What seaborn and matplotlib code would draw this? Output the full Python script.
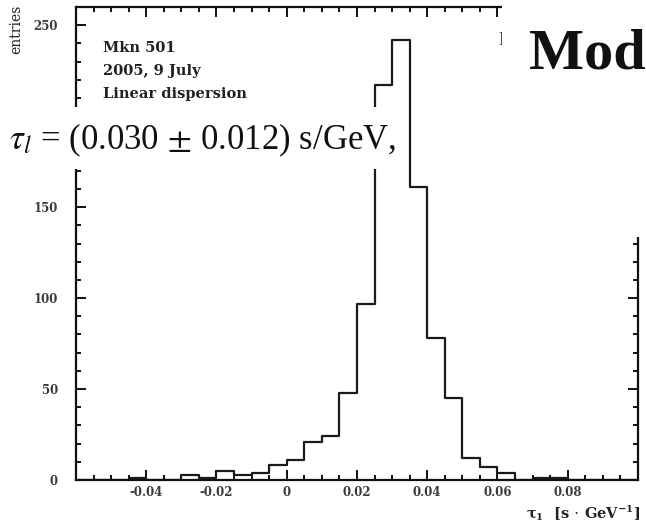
import matplotlib as mpl
import matplotlib.pyplot as plt
import numpy as np
import pandas as pd
import seaborn as sns
from matplotlib.patches import Rectangle
from matplotlib.ticker import MultipleLocator

mpl.use('Agg')

# histogram of tau_l, bin width 0.005 s/GeV
bin_edges = np.round(np.arange(-0.06, 0.1001, 0.005), 4)
counts = [0, 0, 0, 1, 0, 0, 3, 1, 5, 3, 4, 8, 11, 21, 24, 48,
          97, 217, 242, 161, 78, 45, 12, 7, 4, 0, 1, 1, 0, 0, 0, 0]
bin_centers = (bin_edges[:-1] + bin_edges[1:]) / 2

x_ticks = [-0.04, -0.02, 0, 0.02, 0.04, 0.06, 0.08]
x_ticklabels = ['-0.04', '-0.02', '0', '0.02', '0.04', '0.06', '0.08']
y_ticks = [0, 50, 100, 150, 250]

info_lines = ['Mkn 501', '2005, 9 July', 'Linear dispersion']
fit_text = r'$\tau_l$ = (0.030$\,\pm\,$0.012) s/GeV,'

df = pd.DataFrame({'tau': bin_centers, 'n': counts})

# ROOT-like look
sns.set_theme(style='ticks', rc={'axes.linewidth': 1.6, 'axes.edgecolor': '#111111'})
plt.rcParams['font.family'] = ['DejaVu Serif']

fig = plt.figure(figsize=(6.46, 5.22), dpi=100)
ax = fig.add_axes([0.1176, 0.0805, 0.87, 0.906])

sns.histplot(data=df, x='tau', weights='n', bins=list(bin_edges), element='step',
             fill=False, color='#1a1a1a', linewidth=1.6, ax=ax)

ax.set_xlim(-0.06, 0.10)
ax.set_ylim(0, 260)
ax.set_xticks(x_ticks)
ax.set_xticklabels(x_ticklabels)
ax.set_yticks(y_ticks)
ax.xaxis.set_minor_locator(MultipleLocator(0.005))
ax.yaxis.set_minor_locator(MultipleLocator(10))
ax.tick_params(which='both', direction='in', top=True, right=True, width=1.4,
               color='#111111')
ax.tick_params(which='major', length=7)
ax.tick_params(which='minor', length=3.5)
ax.tick_params(axis='y', which='major', pad=13)
ax.tick_params(axis='x', which='major', pad=4)
for lab in ax.get_xticklabels() + ax.get_yticklabels():
    lab.set_fontsize(8.5)
    lab.set_fontweight('bold')
    lab.set_color('#3a3a3a')

ax.set_xlabel(r'$\mathbf{\tau_1}$  [s $\cdot$ GeV$^{\mathbf{-1}}$]', fontsize=10.5,
              fontweight='bold', loc='right', color='#222222',
              math_fontfamily='dejavuserif')
ax.xaxis.set_label_coords(1.005, -0.05)
ax.set_ylabel('entries', fontsize=10, loc='top', color='#222222')
ax.yaxis.set_label_coords(-0.094, 1.005)

for i, line in enumerate(info_lines):
    ax.text(0.048, 0.913 - i * 0.0486, line, transform=ax.transAxes, fontsize=10.5,
            fontweight='bold', color='#222222', va='center')

# overlapping white boxes from the slide
fig.patches.append(Rectangle((0, 0.676), 0.607, 0.119, transform=fig.transFigure,
                             facecolor='white', edgecolor='none', zorder=5))
fig.patches.append(Rectangle((0.777, 0.546), 0.223, 0.454, transform=fig.transFigure,
                             facecolor='white', edgecolor='none', zorder=5))
fig.text(0.772, 0.923, 'I', fontsize=13, color='#333333', va='center',
         family='Liberation Serif', zorder=4)
fig.text(0.014, 0.731, fit_text, fontsize=25, color='#111111', va='center',
         family='Liberation Serif', math_fontfamily='stix', zorder=6)
fig.text(0.819, 0.8697, 'Model', fontsize=42, fontweight='bold', color='#111111',
         va='baseline', family='Liberation Serif', zorder=6)

fig.savefig('out.png', dpi=100)
